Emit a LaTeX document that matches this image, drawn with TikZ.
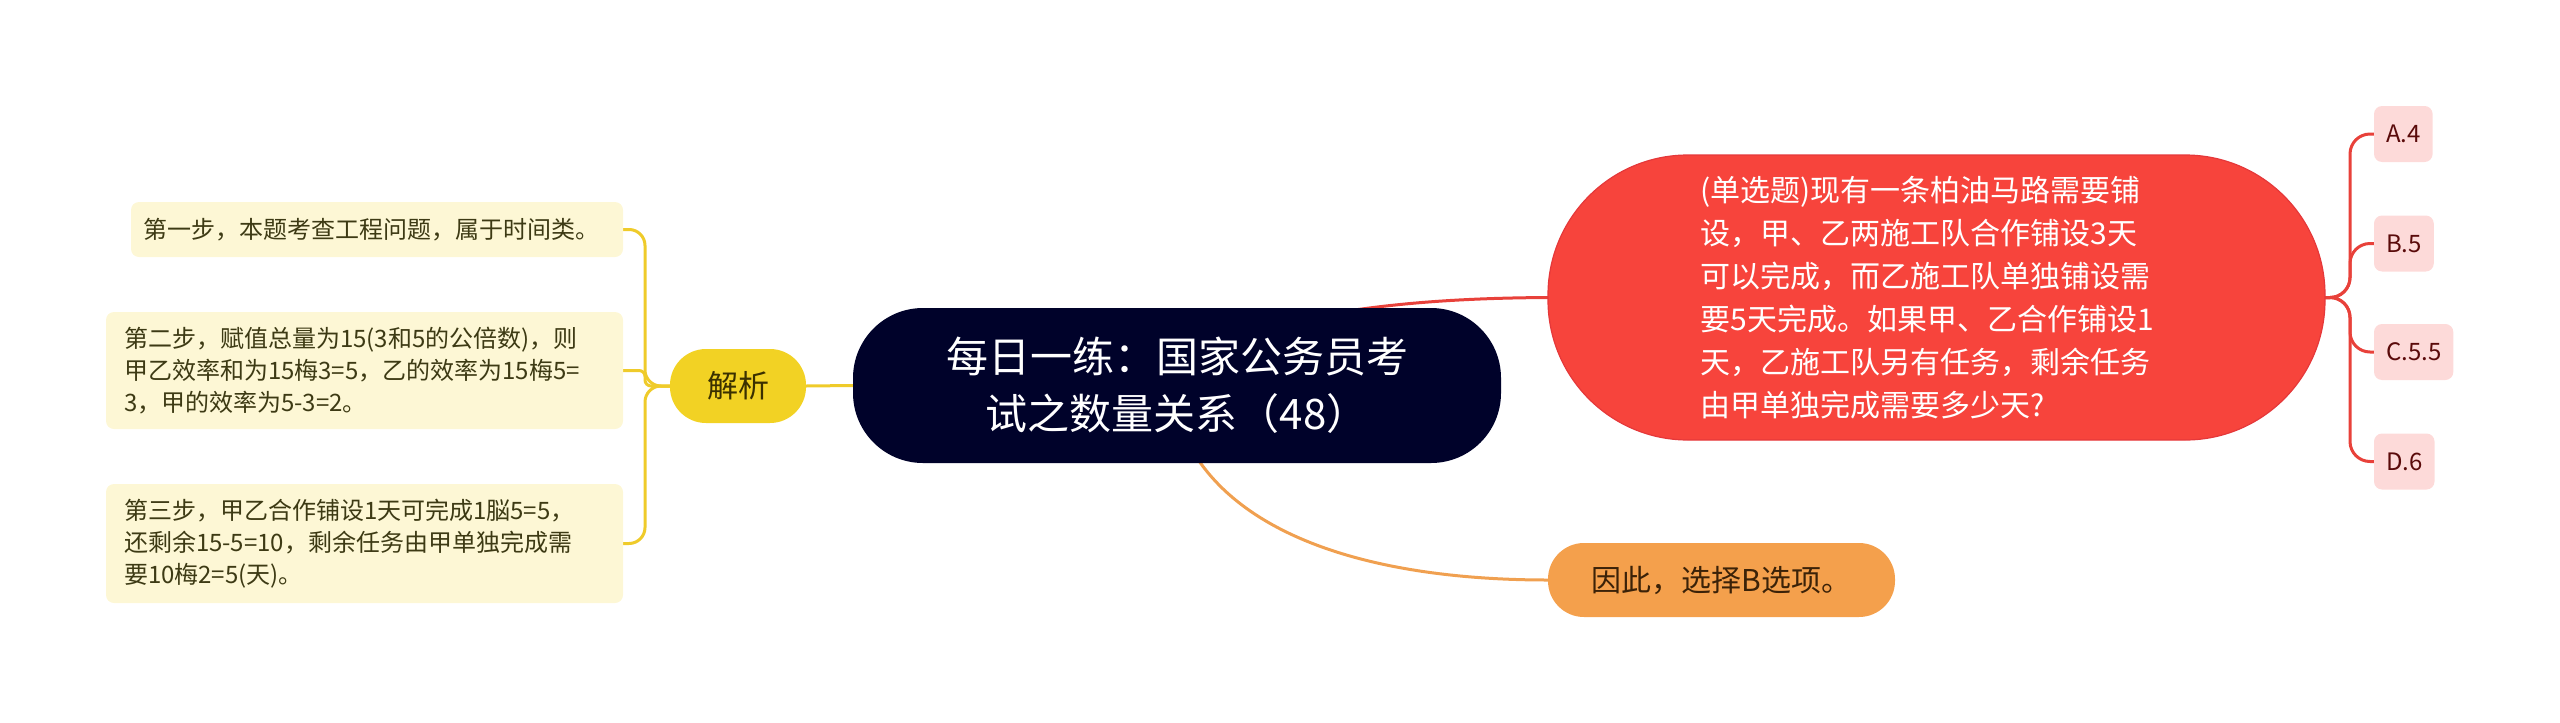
\documentclass[tikz,border=0pt]{standalone}
\usepackage{fontspec}
\setmainfont{Noto Sans CJK SC}
\usetikzlibrary{backgrounds}
\definecolor{rootfill}{HTML}{00022A}
\definecolor{qfill}{HTML}{F7443C}
\definecolor{qborder}{HTML}{E5383A}
\definecolor{optfill}{HTML}{FDDAD9}
\definecolor{opttext}{HTML}{5A0A0A}
\definecolor{redline}{HTML}{E8413A}
\definecolor{yfill}{HTML}{F2D224}
\definecolor{ytext}{HTML}{3A3000}
\definecolor{yline}{HTML}{EFCB2A}
\definecolor{notefill}{HTML}{FDF7D5}
\definecolor{notetext}{HTML}{3D3A14}
\definecolor{ofill}{HTML}{F4A04C}
\definecolor{otext}{HTML}{3B2208}
\definecolor{oline}{HTML}{F0A050}
\begin{document}
\begin{tikzpicture}[x=0.5pt,y=-0.5pt,
  every node/.style={inner sep=0pt,outer sep=0pt},
  rootbox/.style={fill=rootfill,text=white,rounded corners=35pt,minimum width=324pt,minimum height=77.5pt,align=center,font=\fontsize{21}{28.5}\selectfont},
  jxbox/.style={fill=yfill,text=ytext,rounded corners=18pt,minimum width=68pt,minimum height=37pt,font=\fontsize{15.5}{20}\selectfont},
  notebox/.style={fill=notefill,text=notetext,rounded corners=4pt,align=left,font=\fontsize{12}{16}\selectfont},
  qbox/.style={fill=qfill,draw=qborder,line width=0.6pt,text=white,rounded corners=70pt,minimum width=388.5pt,minimum height=142.5pt,text width=236pt,align=left,font=\fontsize{15}{21.5}\selectfont},
  optbox/.style={fill=optfill,text=opttext,rounded corners=4pt,minimum height=28pt,inner xsep=6pt,anchor=west,font=\fontsize{12}{14}\selectfont},
  ansbox/.style={fill=ofill,text=otext,rounded corners=18pt,minimum width=173.5pt,minimum height=37pt,font=\fontsize{15}{20}\selectfont},
  ylink/.style={draw=yline,line width=1.5pt},
  rlink/.style={draw=redline,line width=1.5pt},
  olink/.style={draw=oline,line width=1.5pt}]
\useasboundingbox (0,0) rectangle (2560,723);
\node[rootbox] (root) at (1177,385.5) {每日一练：国家公务员考\\试之数量关系（48）};
\node[jxbox] (jx) at (738,386) {解析};
\node[notebox,minimum width=246pt,minimum height=27.5pt,text width=234pt] (s1) at (377,229.5) {第一步，本题考查工程问题，属于时间类。};
\node[notebox,minimum width=258.5pt,minimum height=58.5pt,text width=240.5pt] (s2) at (364.5,370.5) {第二步，赋值总量为15(3和5的公倍数)，则\\甲乙效率和为15梅3=5，乙的效率为15梅5=\\3，甲的效率为5-3=2。};
\node[notebox,minimum width=258.5pt,minimum height=59.5pt,text width=240.5pt] (s3) at (364.5,543.5) {第三步，甲乙合作铺设1天可完成1脳5=5，\\还剩余15-5=10，剩余任务由甲单独完成需\\要10梅2=5(天)。};
\node[qbox] (q) at (1936.5,297.5) {(单选题)现有一条柏油马路需要铺\\设，甲、乙两施工队合作铺设3天\\可以完成，而乙施工队单独铺设需\\要5天完成。如果甲、乙合作铺设1\\天，乙施工队另有任务，剩余任务\\由甲单独完成需要多少天?};
\node[optbox] (oa) at (2374,134) {A.4};
\node[optbox] (ob) at (2374,243.5) {B.5};
\node[optbox] (oc) at (2374,352) {C.5.5};
\node[optbox] (od) at (2374,461.5) {D.6};
\node[ansbox] (ans) at (1721.5,580) {因此，选择B选项。};
\coordinate (yb) at (645,386);
\coordinate (rb) at (2350,297.5);
\coordinate (rs) at (1329,314);
\coordinate (os) at (1192,450);
\begin{pgfonlayer}{background}
\draw[ylink] (root.west) -- (jx.east);
\draw[ylink,rounded corners=8pt] (jx.west) -- (yb) |- (s1.east);
\draw[ylink,rounded corners=3pt] (jx.west) -- (yb) |- (s2.east);
\draw[ylink,rounded corners=8pt] (jx.west) -- (yb) |- (s3.east);
\draw[rlink] (rs) .. controls (1400,302) and (1470,298) .. (q.west);
\draw[rlink,rounded corners=10pt] (q.east) -- (rb) |- (oa.west);
\draw[rlink,rounded corners=10pt] (q.east) -- (rb) |- (ob.west);
\draw[rlink,rounded corners=10pt] (q.east) -- (rb) |- (oc.west);
\draw[rlink,rounded corners=10pt] (q.east) -- (rb) |- (od.west);
\draw[olink] (os) .. controls (1245,540) and (1380,580) .. (ans.west);
\end{pgfonlayer}
\end{tikzpicture}
\end{document}
